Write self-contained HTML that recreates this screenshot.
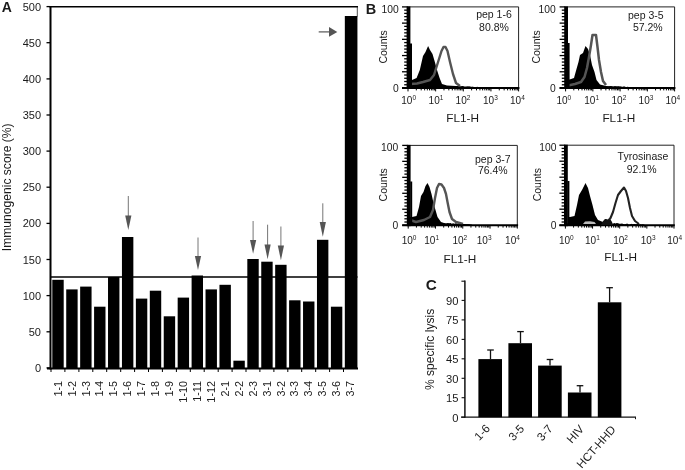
<!DOCTYPE html>
<html><head><meta charset="utf-8"><title>Figure</title>
<style>
html,body{margin:0;padding:0;background:#fff;}
body{width:685px;height:470px;overflow:hidden;}
svg{display:block;filter:blur(0.4px);}
text{font-family:"Liberation Sans",sans-serif;fill:#1a1a1a;}
</style></head><body>
<svg width="685" height="470" viewBox="0 0 685 470">
<rect width="685" height="470" fill="#fff"/>
<!-- Panel A -->
<g id="panelA">
<text x="1.8" y="11.6" font-size="14" font-weight="bold" fill="#111">A</text>
<line x1="50.5" y1="6" x2="50.5" y2="369.4" stroke="#000" stroke-width="2"/>
<line x1="49.5" y1="6.8" x2="358" y2="6.8" stroke="#000" stroke-width="1.6"/>
<line x1="357.3" y1="6.8" x2="357.3" y2="16.5" stroke="#222" stroke-width="0.8"/>
<line x1="47" y1="368.4" x2="358" y2="368.4" stroke="#000" stroke-width="2"/>
<line x1="46.5" y1="367.9" x2="50" y2="367.9" stroke="#000" stroke-width="1.3"/>
<text x="41" y="371.9" font-size="11" text-anchor="end">0</text>
<line x1="46.5" y1="331.8" x2="50" y2="331.8" stroke="#000" stroke-width="1.3"/>
<text x="41" y="335.8" font-size="11" text-anchor="end">50</text>
<line x1="46.5" y1="295.6" x2="50" y2="295.6" stroke="#000" stroke-width="1.3"/>
<text x="41" y="299.6" font-size="11" text-anchor="end">100</text>
<line x1="46.5" y1="259.5" x2="50" y2="259.5" stroke="#000" stroke-width="1.3"/>
<text x="41" y="263.5" font-size="11" text-anchor="end">150</text>
<line x1="46.5" y1="223.4" x2="50" y2="223.4" stroke="#000" stroke-width="1.3"/>
<text x="41" y="227.4" font-size="11" text-anchor="end">200</text>
<line x1="46.5" y1="187.2" x2="50" y2="187.2" stroke="#000" stroke-width="1.3"/>
<text x="41" y="191.2" font-size="11" text-anchor="end">250</text>
<line x1="46.5" y1="151.1" x2="50" y2="151.1" stroke="#000" stroke-width="1.3"/>
<text x="41" y="155.1" font-size="11" text-anchor="end">300</text>
<line x1="46.5" y1="115.0" x2="50" y2="115.0" stroke="#000" stroke-width="1.3"/>
<text x="41" y="119.0" font-size="11" text-anchor="end">350</text>
<line x1="46.5" y1="78.9" x2="50" y2="78.9" stroke="#000" stroke-width="1.3"/>
<text x="41" y="82.9" font-size="11" text-anchor="end">400</text>
<line x1="46.5" y1="42.7" x2="50" y2="42.7" stroke="#000" stroke-width="1.3"/>
<text x="41" y="46.7" font-size="11" text-anchor="end">450</text>
<line x1="46.5" y1="6.6" x2="50" y2="6.6" stroke="#000" stroke-width="1.3"/>
<text x="41" y="10.6" font-size="11" text-anchor="end">500</text>
<text transform="translate(10.6,187.3) rotate(-90)" font-size="12.1" text-anchor="middle">Immunogenic score (%)</text>
<rect x="52.30" y="279.8" width="11.4" height="88.6" fill="#000"/>
<text transform="translate(61.6,381) rotate(-90)" font-size="10.8" text-anchor="end">1-1</text>
<line x1="51.0" y1="368.4" x2="51.0" y2="372" stroke="#000" stroke-width="1"/>
<rect x="66.23" y="289.4" width="11.4" height="79.0" fill="#000"/>
<text transform="translate(75.5,381) rotate(-90)" font-size="10.8" text-anchor="end">1-2</text>
<line x1="64.9" y1="368.4" x2="64.9" y2="372" stroke="#000" stroke-width="1"/>
<rect x="80.16" y="286.6" width="11.4" height="81.8" fill="#000"/>
<text transform="translate(89.5,381) rotate(-90)" font-size="10.8" text-anchor="end">1-3</text>
<line x1="78.9" y1="368.4" x2="78.9" y2="372" stroke="#000" stroke-width="1"/>
<rect x="94.09" y="306.7" width="11.4" height="61.7" fill="#000"/>
<text transform="translate(103.4,381) rotate(-90)" font-size="10.8" text-anchor="end">1-4</text>
<line x1="92.8" y1="368.4" x2="92.8" y2="372" stroke="#000" stroke-width="1"/>
<rect x="108.02" y="277" width="11.4" height="91.4" fill="#000"/>
<text transform="translate(117.3,381) rotate(-90)" font-size="10.8" text-anchor="end">1-5</text>
<line x1="106.7" y1="368.4" x2="106.7" y2="372" stroke="#000" stroke-width="1"/>
<rect x="121.95" y="237" width="11.4" height="131.4" fill="#000"/>
<text transform="translate(131.2,381) rotate(-90)" font-size="10.8" text-anchor="end">1-6</text>
<line x1="120.7" y1="368.4" x2="120.7" y2="372" stroke="#000" stroke-width="1"/>
<rect x="135.88" y="298.6" width="11.4" height="69.8" fill="#000"/>
<text transform="translate(145.2,381) rotate(-90)" font-size="10.8" text-anchor="end">1-7</text>
<line x1="134.6" y1="368.4" x2="134.6" y2="372" stroke="#000" stroke-width="1"/>
<rect x="149.81" y="290.7" width="11.4" height="77.7" fill="#000"/>
<text transform="translate(159.1,381) rotate(-90)" font-size="10.8" text-anchor="end">1-8</text>
<line x1="148.5" y1="368.4" x2="148.5" y2="372" stroke="#000" stroke-width="1"/>
<rect x="163.74" y="316.3" width="11.4" height="52.1" fill="#000"/>
<text transform="translate(173.0,381) rotate(-90)" font-size="10.8" text-anchor="end">1-9</text>
<line x1="162.4" y1="368.4" x2="162.4" y2="372" stroke="#000" stroke-width="1"/>
<rect x="177.67" y="297.6" width="11.4" height="70.8" fill="#000"/>
<text transform="translate(187.0,381) rotate(-90)" font-size="10.8" text-anchor="end">1-10</text>
<line x1="176.4" y1="368.4" x2="176.4" y2="372" stroke="#000" stroke-width="1"/>
<rect x="191.60" y="275.5" width="11.4" height="92.9" fill="#000"/>
<text transform="translate(200.9,381) rotate(-90)" font-size="10.8" text-anchor="end">1-11</text>
<line x1="190.3" y1="368.4" x2="190.3" y2="372" stroke="#000" stroke-width="1"/>
<rect x="205.53" y="289.4" width="11.4" height="79.0" fill="#000"/>
<text transform="translate(214.8,381) rotate(-90)" font-size="10.8" text-anchor="end">1-12</text>
<line x1="204.2" y1="368.4" x2="204.2" y2="372" stroke="#000" stroke-width="1"/>
<rect x="219.46" y="284.8" width="11.4" height="83.6" fill="#000"/>
<text transform="translate(228.8,381) rotate(-90)" font-size="10.8" text-anchor="end">2-1</text>
<line x1="218.2" y1="368.4" x2="218.2" y2="372" stroke="#000" stroke-width="1"/>
<rect x="233.39" y="360.7" width="11.4" height="7.7" fill="#000"/>
<text transform="translate(242.7,381) rotate(-90)" font-size="10.8" text-anchor="end">2-2</text>
<line x1="232.1" y1="368.4" x2="232.1" y2="372" stroke="#000" stroke-width="1"/>
<rect x="247.32" y="259" width="11.4" height="109.4" fill="#000"/>
<text transform="translate(256.6,381) rotate(-90)" font-size="10.8" text-anchor="end">2-3</text>
<line x1="246.0" y1="368.4" x2="246.0" y2="372" stroke="#000" stroke-width="1"/>
<rect x="261.25" y="261.7" width="11.4" height="106.7" fill="#000"/>
<text transform="translate(270.6,381) rotate(-90)" font-size="10.8" text-anchor="end">3-1</text>
<line x1="259.9" y1="368.4" x2="259.9" y2="372" stroke="#000" stroke-width="1"/>
<rect x="275.18" y="264.8" width="11.4" height="103.6" fill="#000"/>
<text transform="translate(284.5,381) rotate(-90)" font-size="10.8" text-anchor="end">3-2</text>
<line x1="273.9" y1="368.4" x2="273.9" y2="372" stroke="#000" stroke-width="1"/>
<rect x="289.11" y="300.3" width="11.4" height="68.1" fill="#000"/>
<text transform="translate(298.4,381) rotate(-90)" font-size="10.8" text-anchor="end">3-3</text>
<line x1="287.8" y1="368.4" x2="287.8" y2="372" stroke="#000" stroke-width="1"/>
<rect x="303.04" y="301.5" width="11.4" height="66.9" fill="#000"/>
<text transform="translate(312.3,381) rotate(-90)" font-size="10.8" text-anchor="end">3-4</text>
<line x1="301.7" y1="368.4" x2="301.7" y2="372" stroke="#000" stroke-width="1"/>
<rect x="316.97" y="239.8" width="11.4" height="128.6" fill="#000"/>
<text transform="translate(326.3,381) rotate(-90)" font-size="10.8" text-anchor="end">3-5</text>
<line x1="315.7" y1="368.4" x2="315.7" y2="372" stroke="#000" stroke-width="1"/>
<rect x="330.90" y="306.7" width="11.4" height="61.7" fill="#000"/>
<text transform="translate(340.2,381) rotate(-90)" font-size="10.8" text-anchor="end">3-6</text>
<line x1="329.6" y1="368.4" x2="329.6" y2="372" stroke="#000" stroke-width="1"/>
<rect x="344.83" y="16" width="12.6" height="352.4" fill="#000"/>
<text transform="translate(354.1,381) rotate(-90)" font-size="10.8" text-anchor="end">3-7</text>
<line x1="343.5" y1="368.4" x2="343.5" y2="372" stroke="#000" stroke-width="1"/>
<line x1="50" y1="277" x2="357.5" y2="277" stroke="#000" stroke-width="1.3"/>
<line x1="128.3" y1="196" x2="128.3" y2="216.5" stroke="#666" stroke-width="0.9"/>
<polygon points="125.20000000000002,215.5 131.4,215.5 128.3,230" fill="#555"/>
<line x1="198" y1="237.5" x2="198" y2="257" stroke="#666" stroke-width="0.9"/>
<polygon points="194.9,256 201.1,256 198,270" fill="#555"/>
<line x1="253.1" y1="221" x2="253.1" y2="241" stroke="#666" stroke-width="0.9"/>
<polygon points="250.0,240 256.2,240 253.1,253.8" fill="#555"/>
<line x1="267.6" y1="224.7" x2="267.6" y2="245.4" stroke="#666" stroke-width="0.9"/>
<polygon points="264.5,244.4 270.70000000000005,244.4 267.6,259.2" fill="#555"/>
<line x1="280.9" y1="226.5" x2="280.9" y2="246.4" stroke="#666" stroke-width="0.9"/>
<polygon points="277.79999999999995,245.4 284.0,245.4 280.9,260.2" fill="#555"/>
<line x1="322.8" y1="203.3" x2="322.8" y2="223" stroke="#666" stroke-width="0.9"/>
<polygon points="319.7,222 325.90000000000003,222 322.8,236.7" fill="#555"/>
<line x1="318.7" y1="31.9" x2="330" y2="31.9" stroke="#555" stroke-width="1.2"/>
<polygon points="329,27 329,36.8 337.3,31.9" fill="#555"/>
</g>
<!-- Panel B -->
<g id="panelB">
<text x="365.8" y="14" font-size="14.5" font-weight="bold" fill="#111">B</text>
<line x1="408" y1="6.9" x2="518.6" y2="6.9" stroke="#222" stroke-width="1"/>
<line x1="518.6" y1="6.9" x2="518.6" y2="88" stroke="#222" stroke-width="1"/>
<polygon points="410,87.5 410,80 412,80 416.6,78 419.8,70 423,56 425.5,52 428.1,46 430,50 432.5,54 435,62.5 437,70 439.6,78 442,84 447,85.5 460,86.3 475,87 475,87.5" fill="#000"/>
<polygon points="410,88 410,86.1 411.3,84.3 412.6,84.6 413.9,85.9 415.2,85.3 416.5,85.5 417.8,85.0 419.1,84.8 420.4,86.4 421.7,86.6 423.0,84.8 424.3,85.7 425.6,85.0 426.9,86.7 428.2,85.8 429.5,85.3 430.8,86.3 432.1,84.9 433.4,85.1 434.7,86.8 436.0,86.8 437.3,85.9 438.6,85.2 439.9,86.2 441.2,86.6 442.5,86.2 443.8,86.9 445.1,86.6 446.4,86.3 447.7,86.3 449.0,86.7 450.3,86.7 451.6,86.8 452.9,86.5 454.2,86.7 455.5,87.1 456.8,86.1 458.1,86.5 459.4,86.4 460.7,87.0 462.0,86.1 463.3,86.3 464.6,87.2 465.9,87.0 467.2,86.6 468.5,86.6 469.8,86.5 471.1,87.0 472.4,86.7 473.7,86.9 475.0,87.2 476.3,87.0 477.6,86.8 478,88" fill="#000"/>
<polyline points="410.5,84 417,83.5 423,82 430,80 434,75 436.5,67 439,59 441.5,51 443.5,47 445.5,47 447.5,51 450,62 453,74 456,83 460,86" fill="none" stroke="#555" stroke-width="2.4" stroke-linejoin="round"/>
<rect x="406.6" y="6.4" width="3.8" height="82.6" fill="#000"/>
<rect x="410" y="43.5" width="2" height="44.5" fill="#000"/>
<line x1="402.0" y1="6.90" x2="408" y2="6.90" stroke="#000" stroke-width="1.3"/>
<line x1="404.2" y1="10.14" x2="408" y2="10.14" stroke="#000" stroke-width="1.3"/>
<line x1="404.2" y1="13.39" x2="408" y2="13.39" stroke="#000" stroke-width="1.3"/>
<line x1="404.2" y1="16.63" x2="408" y2="16.63" stroke="#000" stroke-width="1.3"/>
<line x1="404.2" y1="19.88" x2="408" y2="19.88" stroke="#000" stroke-width="1.3"/>
<line x1="402.0" y1="23.12" x2="408" y2="23.12" stroke="#000" stroke-width="1.3"/>
<line x1="404.2" y1="26.36" x2="408" y2="26.36" stroke="#000" stroke-width="1.3"/>
<line x1="404.2" y1="29.61" x2="408" y2="29.61" stroke="#000" stroke-width="1.3"/>
<line x1="404.2" y1="32.85" x2="408" y2="32.85" stroke="#000" stroke-width="1.3"/>
<line x1="404.2" y1="36.10" x2="408" y2="36.10" stroke="#000" stroke-width="1.3"/>
<line x1="402.0" y1="39.34" x2="408" y2="39.34" stroke="#000" stroke-width="1.3"/>
<line x1="404.2" y1="42.58" x2="408" y2="42.58" stroke="#000" stroke-width="1.3"/>
<line x1="404.2" y1="45.83" x2="408" y2="45.83" stroke="#000" stroke-width="1.3"/>
<line x1="404.2" y1="49.07" x2="408" y2="49.07" stroke="#000" stroke-width="1.3"/>
<line x1="404.2" y1="52.32" x2="408" y2="52.32" stroke="#000" stroke-width="1.3"/>
<line x1="402.0" y1="55.56" x2="408" y2="55.56" stroke="#000" stroke-width="1.3"/>
<line x1="404.2" y1="58.80" x2="408" y2="58.80" stroke="#000" stroke-width="1.3"/>
<line x1="404.2" y1="62.05" x2="408" y2="62.05" stroke="#000" stroke-width="1.3"/>
<line x1="404.2" y1="65.29" x2="408" y2="65.29" stroke="#000" stroke-width="1.3"/>
<line x1="404.2" y1="68.54" x2="408" y2="68.54" stroke="#000" stroke-width="1.3"/>
<line x1="402.0" y1="71.78" x2="408" y2="71.78" stroke="#000" stroke-width="1.3"/>
<line x1="404.2" y1="75.02" x2="408" y2="75.02" stroke="#000" stroke-width="1.3"/>
<line x1="404.2" y1="78.27" x2="408" y2="78.27" stroke="#000" stroke-width="1.3"/>
<line x1="404.2" y1="81.51" x2="408" y2="81.51" stroke="#000" stroke-width="1.3"/>
<line x1="404.2" y1="84.76" x2="408" y2="84.76" stroke="#000" stroke-width="1.3"/>
<line x1="402.0" y1="88.00" x2="408" y2="88.00" stroke="#000" stroke-width="1.3"/>
<line x1="402" y1="88" x2="519.4" y2="88" stroke="#000" stroke-width="2"/>
<line x1="408.00" y1="88" x2="408.00" y2="91.4" stroke="#000" stroke-width="1"/>
<line x1="416.32" y1="88" x2="416.32" y2="90.4" stroke="#000" stroke-width="1"/>
<line x1="421.19" y1="88" x2="421.19" y2="90.4" stroke="#000" stroke-width="1"/>
<line x1="424.65" y1="88" x2="424.65" y2="90.4" stroke="#000" stroke-width="1"/>
<line x1="427.33" y1="88" x2="427.33" y2="90.4" stroke="#000" stroke-width="1"/>
<line x1="429.52" y1="88" x2="429.52" y2="90.4" stroke="#000" stroke-width="1"/>
<line x1="431.37" y1="88" x2="431.37" y2="90.4" stroke="#000" stroke-width="1"/>
<line x1="432.97" y1="88" x2="432.97" y2="90.4" stroke="#000" stroke-width="1"/>
<line x1="434.38" y1="88" x2="434.38" y2="90.4" stroke="#000" stroke-width="1"/>
<line x1="435.65" y1="88" x2="435.65" y2="91.4" stroke="#000" stroke-width="1"/>
<line x1="443.97" y1="88" x2="443.97" y2="90.4" stroke="#000" stroke-width="1"/>
<line x1="448.84" y1="88" x2="448.84" y2="90.4" stroke="#000" stroke-width="1"/>
<line x1="452.30" y1="88" x2="452.30" y2="90.4" stroke="#000" stroke-width="1"/>
<line x1="454.98" y1="88" x2="454.98" y2="90.4" stroke="#000" stroke-width="1"/>
<line x1="457.17" y1="88" x2="457.17" y2="90.4" stroke="#000" stroke-width="1"/>
<line x1="459.02" y1="88" x2="459.02" y2="90.4" stroke="#000" stroke-width="1"/>
<line x1="460.62" y1="88" x2="460.62" y2="90.4" stroke="#000" stroke-width="1"/>
<line x1="462.03" y1="88" x2="462.03" y2="90.4" stroke="#000" stroke-width="1"/>
<line x1="463.30" y1="88" x2="463.30" y2="91.4" stroke="#000" stroke-width="1"/>
<line x1="471.62" y1="88" x2="471.62" y2="90.4" stroke="#000" stroke-width="1"/>
<line x1="476.49" y1="88" x2="476.49" y2="90.4" stroke="#000" stroke-width="1"/>
<line x1="479.95" y1="88" x2="479.95" y2="90.4" stroke="#000" stroke-width="1"/>
<line x1="482.63" y1="88" x2="482.63" y2="90.4" stroke="#000" stroke-width="1"/>
<line x1="484.82" y1="88" x2="484.82" y2="90.4" stroke="#000" stroke-width="1"/>
<line x1="486.67" y1="88" x2="486.67" y2="90.4" stroke="#000" stroke-width="1"/>
<line x1="488.27" y1="88" x2="488.27" y2="90.4" stroke="#000" stroke-width="1"/>
<line x1="489.68" y1="88" x2="489.68" y2="90.4" stroke="#000" stroke-width="1"/>
<line x1="490.95" y1="88" x2="490.95" y2="91.4" stroke="#000" stroke-width="1"/>
<line x1="499.27" y1="88" x2="499.27" y2="90.4" stroke="#000" stroke-width="1"/>
<line x1="504.14" y1="88" x2="504.14" y2="90.4" stroke="#000" stroke-width="1"/>
<line x1="507.60" y1="88" x2="507.60" y2="90.4" stroke="#000" stroke-width="1"/>
<line x1="510.28" y1="88" x2="510.28" y2="90.4" stroke="#000" stroke-width="1"/>
<line x1="512.47" y1="88" x2="512.47" y2="90.4" stroke="#000" stroke-width="1"/>
<line x1="514.32" y1="88" x2="514.32" y2="90.4" stroke="#000" stroke-width="1"/>
<line x1="515.92" y1="88" x2="515.92" y2="90.4" stroke="#000" stroke-width="1"/>
<line x1="517.33" y1="88" x2="517.33" y2="90.4" stroke="#000" stroke-width="1"/>
<line x1="518.6" y1="88" x2="518.6" y2="91.4" stroke="#000" stroke-width="1"/>
<text x="398.8" y="12.8" font-size="10.3" text-anchor="end">100</text>
<text x="398.8" y="92" font-size="10.3" text-anchor="end">0</text>
<text transform="translate(387,46.95) rotate(-90)" font-size="10.5" text-anchor="middle">Counts</text>
<text x="494" y="18.4" font-size="10.5" text-anchor="middle">pep 1-6</text>
<text x="494" y="30.8" font-size="10.5" text-anchor="middle">80.8%</text>
<text x="401.3" y="104" font-size="10">10<tspan font-size="6.5" dy="-4.3">0</tspan></text>
<text x="428.6" y="104" font-size="10">10<tspan font-size="6.5" dy="-4.3">1</tspan></text>
<text x="455.6" y="104" font-size="10">10<tspan font-size="6.5" dy="-4.3">2</tspan></text>
<text x="483" y="104" font-size="10">10<tspan font-size="6.5" dy="-4.3">3</tspan></text>
<text x="510" y="104" font-size="10">10<tspan font-size="6.5" dy="-4.3">4</tspan></text>
<text x="462.6" y="121.6" font-size="11.8" text-anchor="middle">FL1-H</text>
<line x1="565.6" y1="6.9" x2="674.6" y2="6.9" stroke="#222" stroke-width="1"/>
<line x1="674.6" y1="6.9" x2="674.6" y2="88" stroke="#222" stroke-width="1"/>
<polygon points="568,87.5 568,79.5 569.6,79.5 574,78 576.5,69 578.5,62 580,55 583,53 585.5,46 588,49 590,55 592,65 594.5,72 596.5,80 600,84.5 606,86 625,87 625,87.5" fill="#000"/>
<polygon points="567.6,88 567.6,84.0 568.9,84.1 570.2,86.3 571.5,86.3 572.8,84.5 574.1,84.8 575.4,85.0 576.7,85.9 578.0,85.3 579.3,85.3 580.6,85.4 581.9,86.3 583.2,85.8 584.5,85.9 585.8,85.3 587.1,84.8 588.4,84.9 589.7,85.8 591.0,86.0 592.3,86.4 593.6,86.8 594.9,86.9 596.2,86.1 597.5,86.4 598.8,86.3 600.1,85.6 601.4,86.2 602.7,86.2 604.0,86.7 605.3,87.1 606.6,86.6 607.9,86.9 609.2,86.5 610.5,85.9 611.8,86.3 613.1,87.0 614.4,86.2 615.7,86.3 617.0,86.5 618.3,86.3 619.6,86.5 620.9,86.5 622.2,87.0 623.5,86.5 624.8,86.5 626.1,87.3 627.4,86.8 628.7,86.9 630.0,87.2 630,88" fill="#000"/>
<polyline points="568,85.5 575,84 581,82 584.5,77 587,68 589,57 591,45 592.5,35 596,35 597.5,47 599,60 601,72 603,81 606,85" fill="none" stroke="#555" stroke-width="2.5" stroke-linejoin="round"/>
<rect x="564.2" y="6.4" width="3.8" height="82.6" fill="#000"/>
<rect x="567.6" y="43" width="2" height="45" fill="#000"/>
<line x1="559.6" y1="6.90" x2="565.6" y2="6.90" stroke="#000" stroke-width="1.3"/>
<line x1="561.8" y1="10.14" x2="565.6" y2="10.14" stroke="#000" stroke-width="1.3"/>
<line x1="561.8" y1="13.39" x2="565.6" y2="13.39" stroke="#000" stroke-width="1.3"/>
<line x1="561.8" y1="16.63" x2="565.6" y2="16.63" stroke="#000" stroke-width="1.3"/>
<line x1="561.8" y1="19.88" x2="565.6" y2="19.88" stroke="#000" stroke-width="1.3"/>
<line x1="559.6" y1="23.12" x2="565.6" y2="23.12" stroke="#000" stroke-width="1.3"/>
<line x1="561.8" y1="26.36" x2="565.6" y2="26.36" stroke="#000" stroke-width="1.3"/>
<line x1="561.8" y1="29.61" x2="565.6" y2="29.61" stroke="#000" stroke-width="1.3"/>
<line x1="561.8" y1="32.85" x2="565.6" y2="32.85" stroke="#000" stroke-width="1.3"/>
<line x1="561.8" y1="36.10" x2="565.6" y2="36.10" stroke="#000" stroke-width="1.3"/>
<line x1="559.6" y1="39.34" x2="565.6" y2="39.34" stroke="#000" stroke-width="1.3"/>
<line x1="561.8" y1="42.58" x2="565.6" y2="42.58" stroke="#000" stroke-width="1.3"/>
<line x1="561.8" y1="45.83" x2="565.6" y2="45.83" stroke="#000" stroke-width="1.3"/>
<line x1="561.8" y1="49.07" x2="565.6" y2="49.07" stroke="#000" stroke-width="1.3"/>
<line x1="561.8" y1="52.32" x2="565.6" y2="52.32" stroke="#000" stroke-width="1.3"/>
<line x1="559.6" y1="55.56" x2="565.6" y2="55.56" stroke="#000" stroke-width="1.3"/>
<line x1="561.8" y1="58.80" x2="565.6" y2="58.80" stroke="#000" stroke-width="1.3"/>
<line x1="561.8" y1="62.05" x2="565.6" y2="62.05" stroke="#000" stroke-width="1.3"/>
<line x1="561.8" y1="65.29" x2="565.6" y2="65.29" stroke="#000" stroke-width="1.3"/>
<line x1="561.8" y1="68.54" x2="565.6" y2="68.54" stroke="#000" stroke-width="1.3"/>
<line x1="559.6" y1="71.78" x2="565.6" y2="71.78" stroke="#000" stroke-width="1.3"/>
<line x1="561.8" y1="75.02" x2="565.6" y2="75.02" stroke="#000" stroke-width="1.3"/>
<line x1="561.8" y1="78.27" x2="565.6" y2="78.27" stroke="#000" stroke-width="1.3"/>
<line x1="561.8" y1="81.51" x2="565.6" y2="81.51" stroke="#000" stroke-width="1.3"/>
<line x1="561.8" y1="84.76" x2="565.6" y2="84.76" stroke="#000" stroke-width="1.3"/>
<line x1="559.6" y1="88.00" x2="565.6" y2="88.00" stroke="#000" stroke-width="1.3"/>
<line x1="559.6" y1="88" x2="675.4" y2="88" stroke="#000" stroke-width="2"/>
<line x1="565.60" y1="88" x2="565.60" y2="91.4" stroke="#000" stroke-width="1"/>
<line x1="573.80" y1="88" x2="573.80" y2="90.4" stroke="#000" stroke-width="1"/>
<line x1="578.60" y1="88" x2="578.60" y2="90.4" stroke="#000" stroke-width="1"/>
<line x1="582.01" y1="88" x2="582.01" y2="90.4" stroke="#000" stroke-width="1"/>
<line x1="584.65" y1="88" x2="584.65" y2="90.4" stroke="#000" stroke-width="1"/>
<line x1="586.80" y1="88" x2="586.80" y2="90.4" stroke="#000" stroke-width="1"/>
<line x1="588.63" y1="88" x2="588.63" y2="90.4" stroke="#000" stroke-width="1"/>
<line x1="590.21" y1="88" x2="590.21" y2="90.4" stroke="#000" stroke-width="1"/>
<line x1="591.60" y1="88" x2="591.60" y2="90.4" stroke="#000" stroke-width="1"/>
<line x1="592.85" y1="88" x2="592.85" y2="91.4" stroke="#000" stroke-width="1"/>
<line x1="601.05" y1="88" x2="601.05" y2="90.4" stroke="#000" stroke-width="1"/>
<line x1="605.85" y1="88" x2="605.85" y2="90.4" stroke="#000" stroke-width="1"/>
<line x1="609.26" y1="88" x2="609.26" y2="90.4" stroke="#000" stroke-width="1"/>
<line x1="611.90" y1="88" x2="611.90" y2="90.4" stroke="#000" stroke-width="1"/>
<line x1="614.05" y1="88" x2="614.05" y2="90.4" stroke="#000" stroke-width="1"/>
<line x1="615.88" y1="88" x2="615.88" y2="90.4" stroke="#000" stroke-width="1"/>
<line x1="617.46" y1="88" x2="617.46" y2="90.4" stroke="#000" stroke-width="1"/>
<line x1="618.85" y1="88" x2="618.85" y2="90.4" stroke="#000" stroke-width="1"/>
<line x1="620.10" y1="88" x2="620.10" y2="91.4" stroke="#000" stroke-width="1"/>
<line x1="628.30" y1="88" x2="628.30" y2="90.4" stroke="#000" stroke-width="1"/>
<line x1="633.10" y1="88" x2="633.10" y2="90.4" stroke="#000" stroke-width="1"/>
<line x1="636.51" y1="88" x2="636.51" y2="90.4" stroke="#000" stroke-width="1"/>
<line x1="639.15" y1="88" x2="639.15" y2="90.4" stroke="#000" stroke-width="1"/>
<line x1="641.30" y1="88" x2="641.30" y2="90.4" stroke="#000" stroke-width="1"/>
<line x1="643.13" y1="88" x2="643.13" y2="90.4" stroke="#000" stroke-width="1"/>
<line x1="644.71" y1="88" x2="644.71" y2="90.4" stroke="#000" stroke-width="1"/>
<line x1="646.10" y1="88" x2="646.10" y2="90.4" stroke="#000" stroke-width="1"/>
<line x1="647.35" y1="88" x2="647.35" y2="91.4" stroke="#000" stroke-width="1"/>
<line x1="655.55" y1="88" x2="655.55" y2="90.4" stroke="#000" stroke-width="1"/>
<line x1="660.35" y1="88" x2="660.35" y2="90.4" stroke="#000" stroke-width="1"/>
<line x1="663.76" y1="88" x2="663.76" y2="90.4" stroke="#000" stroke-width="1"/>
<line x1="666.40" y1="88" x2="666.40" y2="90.4" stroke="#000" stroke-width="1"/>
<line x1="668.55" y1="88" x2="668.55" y2="90.4" stroke="#000" stroke-width="1"/>
<line x1="670.38" y1="88" x2="670.38" y2="90.4" stroke="#000" stroke-width="1"/>
<line x1="671.96" y1="88" x2="671.96" y2="90.4" stroke="#000" stroke-width="1"/>
<line x1="673.35" y1="88" x2="673.35" y2="90.4" stroke="#000" stroke-width="1"/>
<line x1="674.6" y1="88" x2="674.6" y2="91.4" stroke="#000" stroke-width="1"/>
<text x="555.8" y="12.9" font-size="10.3" text-anchor="end">100</text>
<text x="555.8" y="92" font-size="10.3" text-anchor="end">0</text>
<text transform="translate(539.5,46.95) rotate(-90)" font-size="10.5" text-anchor="middle">Counts</text>
<text x="645.8" y="18.6" font-size="10.5" text-anchor="middle">pep 3-5</text>
<text x="647.8" y="30.6" font-size="10.5" text-anchor="middle">57.2%</text>
<text x="556.4" y="104.4" font-size="10">10<tspan font-size="6.5" dy="-4.3">0</tspan></text>
<text x="584.3" y="104.4" font-size="10">10<tspan font-size="6.5" dy="-4.3">1</tspan></text>
<text x="611.5" y="104.4" font-size="10">10<tspan font-size="6.5" dy="-4.3">2</tspan></text>
<text x="638.6" y="104.4" font-size="10">10<tspan font-size="6.5" dy="-4.3">3</tspan></text>
<text x="665.4" y="104.4" font-size="10">10<tspan font-size="6.5" dy="-4.3">4</tspan></text>
<text x="618.8" y="121.6" font-size="11.8" text-anchor="middle">FL1-H</text>
<line x1="408.2" y1="145.4" x2="517.3" y2="145.4" stroke="#222" stroke-width="1"/>
<line x1="517.3" y1="145.4" x2="517.3" y2="225.2" stroke="#222" stroke-width="1"/>
<polygon points="410,225 410,217 412,217 416.5,216 419,207 421,196 423.5,192 425.5,186 427.5,183 429.5,187 431.5,194 433.5,203 435.5,210 437.5,217 441,222 447,224 470,224.6 470,225" fill="#000"/>
<polygon points="410.2,225.2 410.2,223.0 411.5,222.3 412.8,222.8 414.1,222.2 415.4,222.2 416.7,223.6 418.0,223.7 419.3,221.9 420.6,223.2 421.9,223.3 423.2,221.7 424.5,222.9 425.8,222.2 427.1,223.0 428.4,222.7 429.7,223.7 431.0,222.8 432.3,222.4 433.6,223.1 434.9,222.7 436.2,222.9 437.5,224.0 438.8,222.8 440.1,223.2 441.4,223.7 442.7,224.2 444.0,222.9 445.3,223.5 446.6,223.2 447.9,223.0 449.2,223.3 450.5,223.1 451.8,223.8 453.1,223.3 454.4,223.8 455.7,223.3 457.0,223.4 458.3,224.4 459.6,224.3 460.9,224.3 462.2,223.5 463.5,224.1 464.8,224.0 466.1,224.3 467.4,224.2 468.7,224.3 470.0,224.4 471.3,224.2 472,225.2" fill="#000"/>
<polyline points="410,220 416,222 424,220 430,217 433,210 435,198 437,188 439,184 441.5,184.5 444,188 446,194 447.5,202 449.5,212 452,219 456,222 463,224" fill="none" stroke="#555" stroke-width="2.4" stroke-linejoin="round"/>
<rect x="406.8" y="144.9" width="3.8" height="81.29999999999998" fill="#000"/>
<rect x="410.2" y="181.5" width="2" height="43.69999999999999" fill="#000"/>
<line x1="402.2" y1="145.40" x2="408.2" y2="145.40" stroke="#000" stroke-width="1.3"/>
<line x1="404.4" y1="148.59" x2="408.2" y2="148.59" stroke="#000" stroke-width="1.3"/>
<line x1="404.4" y1="151.78" x2="408.2" y2="151.78" stroke="#000" stroke-width="1.3"/>
<line x1="404.4" y1="154.98" x2="408.2" y2="154.98" stroke="#000" stroke-width="1.3"/>
<line x1="404.4" y1="158.17" x2="408.2" y2="158.17" stroke="#000" stroke-width="1.3"/>
<line x1="402.2" y1="161.36" x2="408.2" y2="161.36" stroke="#000" stroke-width="1.3"/>
<line x1="404.4" y1="164.55" x2="408.2" y2="164.55" stroke="#000" stroke-width="1.3"/>
<line x1="404.4" y1="167.74" x2="408.2" y2="167.74" stroke="#000" stroke-width="1.3"/>
<line x1="404.4" y1="170.94" x2="408.2" y2="170.94" stroke="#000" stroke-width="1.3"/>
<line x1="404.4" y1="174.13" x2="408.2" y2="174.13" stroke="#000" stroke-width="1.3"/>
<line x1="402.2" y1="177.32" x2="408.2" y2="177.32" stroke="#000" stroke-width="1.3"/>
<line x1="404.4" y1="180.51" x2="408.2" y2="180.51" stroke="#000" stroke-width="1.3"/>
<line x1="404.4" y1="183.70" x2="408.2" y2="183.70" stroke="#000" stroke-width="1.3"/>
<line x1="404.4" y1="186.90" x2="408.2" y2="186.90" stroke="#000" stroke-width="1.3"/>
<line x1="404.4" y1="190.09" x2="408.2" y2="190.09" stroke="#000" stroke-width="1.3"/>
<line x1="402.2" y1="193.28" x2="408.2" y2="193.28" stroke="#000" stroke-width="1.3"/>
<line x1="404.4" y1="196.47" x2="408.2" y2="196.47" stroke="#000" stroke-width="1.3"/>
<line x1="404.4" y1="199.66" x2="408.2" y2="199.66" stroke="#000" stroke-width="1.3"/>
<line x1="404.4" y1="202.86" x2="408.2" y2="202.86" stroke="#000" stroke-width="1.3"/>
<line x1="404.4" y1="206.05" x2="408.2" y2="206.05" stroke="#000" stroke-width="1.3"/>
<line x1="402.2" y1="209.24" x2="408.2" y2="209.24" stroke="#000" stroke-width="1.3"/>
<line x1="404.4" y1="212.43" x2="408.2" y2="212.43" stroke="#000" stroke-width="1.3"/>
<line x1="404.4" y1="215.62" x2="408.2" y2="215.62" stroke="#000" stroke-width="1.3"/>
<line x1="404.4" y1="218.82" x2="408.2" y2="218.82" stroke="#000" stroke-width="1.3"/>
<line x1="404.4" y1="222.01" x2="408.2" y2="222.01" stroke="#000" stroke-width="1.3"/>
<line x1="402.2" y1="225.20" x2="408.2" y2="225.20" stroke="#000" stroke-width="1.3"/>
<line x1="402.2" y1="225.2" x2="518.0999999999999" y2="225.2" stroke="#000" stroke-width="2"/>
<line x1="408.20" y1="225.2" x2="408.20" y2="228.6" stroke="#000" stroke-width="1"/>
<line x1="416.41" y1="225.2" x2="416.41" y2="227.6" stroke="#000" stroke-width="1"/>
<line x1="421.21" y1="225.2" x2="421.21" y2="227.6" stroke="#000" stroke-width="1"/>
<line x1="424.62" y1="225.2" x2="424.62" y2="227.6" stroke="#000" stroke-width="1"/>
<line x1="427.26" y1="225.2" x2="427.26" y2="227.6" stroke="#000" stroke-width="1"/>
<line x1="429.42" y1="225.2" x2="429.42" y2="227.6" stroke="#000" stroke-width="1"/>
<line x1="431.25" y1="225.2" x2="431.25" y2="227.6" stroke="#000" stroke-width="1"/>
<line x1="432.83" y1="225.2" x2="432.83" y2="227.6" stroke="#000" stroke-width="1"/>
<line x1="434.23" y1="225.2" x2="434.23" y2="227.6" stroke="#000" stroke-width="1"/>
<line x1="435.47" y1="225.2" x2="435.47" y2="228.6" stroke="#000" stroke-width="1"/>
<line x1="443.69" y1="225.2" x2="443.69" y2="227.6" stroke="#000" stroke-width="1"/>
<line x1="448.49" y1="225.2" x2="448.49" y2="227.6" stroke="#000" stroke-width="1"/>
<line x1="451.90" y1="225.2" x2="451.90" y2="227.6" stroke="#000" stroke-width="1"/>
<line x1="454.54" y1="225.2" x2="454.54" y2="227.6" stroke="#000" stroke-width="1"/>
<line x1="456.70" y1="225.2" x2="456.70" y2="227.6" stroke="#000" stroke-width="1"/>
<line x1="458.53" y1="225.2" x2="458.53" y2="227.6" stroke="#000" stroke-width="1"/>
<line x1="460.11" y1="225.2" x2="460.11" y2="227.6" stroke="#000" stroke-width="1"/>
<line x1="461.50" y1="225.2" x2="461.50" y2="227.6" stroke="#000" stroke-width="1"/>
<line x1="462.75" y1="225.2" x2="462.75" y2="228.6" stroke="#000" stroke-width="1"/>
<line x1="470.96" y1="225.2" x2="470.96" y2="227.6" stroke="#000" stroke-width="1"/>
<line x1="475.76" y1="225.2" x2="475.76" y2="227.6" stroke="#000" stroke-width="1"/>
<line x1="479.17" y1="225.2" x2="479.17" y2="227.6" stroke="#000" stroke-width="1"/>
<line x1="481.81" y1="225.2" x2="481.81" y2="227.6" stroke="#000" stroke-width="1"/>
<line x1="483.97" y1="225.2" x2="483.97" y2="227.6" stroke="#000" stroke-width="1"/>
<line x1="485.80" y1="225.2" x2="485.80" y2="227.6" stroke="#000" stroke-width="1"/>
<line x1="487.38" y1="225.2" x2="487.38" y2="227.6" stroke="#000" stroke-width="1"/>
<line x1="488.78" y1="225.2" x2="488.78" y2="227.6" stroke="#000" stroke-width="1"/>
<line x1="490.02" y1="225.2" x2="490.02" y2="228.6" stroke="#000" stroke-width="1"/>
<line x1="498.24" y1="225.2" x2="498.24" y2="227.6" stroke="#000" stroke-width="1"/>
<line x1="503.04" y1="225.2" x2="503.04" y2="227.6" stroke="#000" stroke-width="1"/>
<line x1="506.45" y1="225.2" x2="506.45" y2="227.6" stroke="#000" stroke-width="1"/>
<line x1="509.09" y1="225.2" x2="509.09" y2="227.6" stroke="#000" stroke-width="1"/>
<line x1="511.25" y1="225.2" x2="511.25" y2="227.6" stroke="#000" stroke-width="1"/>
<line x1="513.08" y1="225.2" x2="513.08" y2="227.6" stroke="#000" stroke-width="1"/>
<line x1="514.66" y1="225.2" x2="514.66" y2="227.6" stroke="#000" stroke-width="1"/>
<line x1="516.05" y1="225.2" x2="516.05" y2="227.6" stroke="#000" stroke-width="1"/>
<line x1="517.3" y1="225.2" x2="517.3" y2="228.6" stroke="#000" stroke-width="1"/>
<text x="398.2" y="150.7" font-size="10.3" text-anchor="end">100</text>
<text x="398.2" y="229.2" font-size="10.3" text-anchor="end">0</text>
<text transform="translate(386.8,184.8) rotate(-90)" font-size="10.5" text-anchor="middle">Counts</text>
<text x="492.8" y="162.6" font-size="10.5" text-anchor="middle">pep 3-7</text>
<text x="492.8" y="173.8" font-size="10.5" text-anchor="middle">76.4%</text>
<text x="401.7" y="243.9" font-size="10">10<tspan font-size="6.5" dy="-4.3">0</tspan></text>
<text x="424.3" y="243.9" font-size="10">10<tspan font-size="6.5" dy="-4.3">1</tspan></text>
<text x="452.4" y="243.9" font-size="10">10<tspan font-size="6.5" dy="-4.3">2</tspan></text>
<text x="476.8" y="243.9" font-size="10">10<tspan font-size="6.5" dy="-4.3">3</tspan></text>
<text x="505.1" y="243.9" font-size="10">10<tspan font-size="6.5" dy="-4.3">4</tspan></text>
<text x="459.9" y="263.1" font-size="11.8" text-anchor="middle">FL1-H</text>
<line x1="565.4" y1="145.2" x2="674" y2="145.2" stroke="#222" stroke-width="1"/>
<line x1="674" y1="145.2" x2="674" y2="225.2" stroke="#222" stroke-width="1"/>
<polygon points="568,225 568,217 570,217 574.5,216 577,205 579,195 582,190 585.5,183 588,188 590,196 592.5,205 595,215 598,220 603,222 612,224 612,225" fill="#000"/>
<polygon points="567.4,225.2 567.4,223.0 568.7,223.4 570.0,222.7 571.3,223.3 572.6,223.5 573.9,222.8 575.2,221.6 576.5,221.9 577.8,222.0 579.1,223.3 580.4,222.6 581.7,223.2 583.0,223.5 584.3,223.6 585.6,223.4 586.9,221.9 588.2,222.2 589.5,222.3 590.8,222.3 592.1,223.6 593.4,223.4 594.7,222.8 596.0,222.6 597.3,222.5 598.6,222.4 599.9,223.9 601.2,223.0 602.5,222.9 603.8,223.3 605.1,223.9 606.4,223.4 607.7,224.0 609.0,222.7 610.3,222.9 611.6,223.4 612.9,223.8 614.2,222.9 615.5,223.5 616.8,223.1 618.1,223.2 619.4,223.7 620.7,223.8 622.0,223.6 623.3,223.9 624.6,224.2 625.9,224.1 627.2,223.5 628.5,224.4 629.8,224.5 631.1,223.8 632.4,224.2 633.7,224.0 635.0,224.1 636.3,224.3 637.6,223.7 638.9,224.5 640.2,224.3 641.5,224.5 642.8,224.2 644.1,224.5 645,225.2" fill="#000"/>
<polyline points="603,223 605.5,220 608,221 610.5,218 613,212 615.5,203 618,195 621,191 624,187.5 626,191 628,198 630,208 632,216 635,221 639,224" fill="none" stroke="#222" stroke-width="2.1" stroke-linejoin="round"/>
<rect x="564.0" y="144.7" width="3.8" height="81.5" fill="#000"/>
<rect x="567.4" y="181" width="2" height="44.19999999999999" fill="#000"/>
<line x1="559.4" y1="145.20" x2="565.4" y2="145.20" stroke="#000" stroke-width="1.3"/>
<line x1="561.6" y1="148.40" x2="565.4" y2="148.40" stroke="#000" stroke-width="1.3"/>
<line x1="561.6" y1="151.60" x2="565.4" y2="151.60" stroke="#000" stroke-width="1.3"/>
<line x1="561.6" y1="154.80" x2="565.4" y2="154.80" stroke="#000" stroke-width="1.3"/>
<line x1="561.6" y1="158.00" x2="565.4" y2="158.00" stroke="#000" stroke-width="1.3"/>
<line x1="559.4" y1="161.20" x2="565.4" y2="161.20" stroke="#000" stroke-width="1.3"/>
<line x1="561.6" y1="164.40" x2="565.4" y2="164.40" stroke="#000" stroke-width="1.3"/>
<line x1="561.6" y1="167.60" x2="565.4" y2="167.60" stroke="#000" stroke-width="1.3"/>
<line x1="561.6" y1="170.80" x2="565.4" y2="170.80" stroke="#000" stroke-width="1.3"/>
<line x1="561.6" y1="174.00" x2="565.4" y2="174.00" stroke="#000" stroke-width="1.3"/>
<line x1="559.4" y1="177.20" x2="565.4" y2="177.20" stroke="#000" stroke-width="1.3"/>
<line x1="561.6" y1="180.40" x2="565.4" y2="180.40" stroke="#000" stroke-width="1.3"/>
<line x1="561.6" y1="183.60" x2="565.4" y2="183.60" stroke="#000" stroke-width="1.3"/>
<line x1="561.6" y1="186.80" x2="565.4" y2="186.80" stroke="#000" stroke-width="1.3"/>
<line x1="561.6" y1="190.00" x2="565.4" y2="190.00" stroke="#000" stroke-width="1.3"/>
<line x1="559.4" y1="193.20" x2="565.4" y2="193.20" stroke="#000" stroke-width="1.3"/>
<line x1="561.6" y1="196.40" x2="565.4" y2="196.40" stroke="#000" stroke-width="1.3"/>
<line x1="561.6" y1="199.60" x2="565.4" y2="199.60" stroke="#000" stroke-width="1.3"/>
<line x1="561.6" y1="202.80" x2="565.4" y2="202.80" stroke="#000" stroke-width="1.3"/>
<line x1="561.6" y1="206.00" x2="565.4" y2="206.00" stroke="#000" stroke-width="1.3"/>
<line x1="559.4" y1="209.20" x2="565.4" y2="209.20" stroke="#000" stroke-width="1.3"/>
<line x1="561.6" y1="212.40" x2="565.4" y2="212.40" stroke="#000" stroke-width="1.3"/>
<line x1="561.6" y1="215.60" x2="565.4" y2="215.60" stroke="#000" stroke-width="1.3"/>
<line x1="561.6" y1="218.80" x2="565.4" y2="218.80" stroke="#000" stroke-width="1.3"/>
<line x1="561.6" y1="222.00" x2="565.4" y2="222.00" stroke="#000" stroke-width="1.3"/>
<line x1="559.4" y1="225.20" x2="565.4" y2="225.20" stroke="#000" stroke-width="1.3"/>
<line x1="559.4" y1="225.2" x2="674.8" y2="225.2" stroke="#000" stroke-width="2"/>
<line x1="565.40" y1="225.2" x2="565.40" y2="228.6" stroke="#000" stroke-width="1"/>
<line x1="573.57" y1="225.2" x2="573.57" y2="227.6" stroke="#000" stroke-width="1"/>
<line x1="578.35" y1="225.2" x2="578.35" y2="227.6" stroke="#000" stroke-width="1"/>
<line x1="581.75" y1="225.2" x2="581.75" y2="227.6" stroke="#000" stroke-width="1"/>
<line x1="584.38" y1="225.2" x2="584.38" y2="227.6" stroke="#000" stroke-width="1"/>
<line x1="586.53" y1="225.2" x2="586.53" y2="227.6" stroke="#000" stroke-width="1"/>
<line x1="588.34" y1="225.2" x2="588.34" y2="227.6" stroke="#000" stroke-width="1"/>
<line x1="589.92" y1="225.2" x2="589.92" y2="227.6" stroke="#000" stroke-width="1"/>
<line x1="591.31" y1="225.2" x2="591.31" y2="227.6" stroke="#000" stroke-width="1"/>
<line x1="592.55" y1="225.2" x2="592.55" y2="228.6" stroke="#000" stroke-width="1"/>
<line x1="600.72" y1="225.2" x2="600.72" y2="227.6" stroke="#000" stroke-width="1"/>
<line x1="605.50" y1="225.2" x2="605.50" y2="227.6" stroke="#000" stroke-width="1"/>
<line x1="608.90" y1="225.2" x2="608.90" y2="227.6" stroke="#000" stroke-width="1"/>
<line x1="611.53" y1="225.2" x2="611.53" y2="227.6" stroke="#000" stroke-width="1"/>
<line x1="613.68" y1="225.2" x2="613.68" y2="227.6" stroke="#000" stroke-width="1"/>
<line x1="615.49" y1="225.2" x2="615.49" y2="227.6" stroke="#000" stroke-width="1"/>
<line x1="617.07" y1="225.2" x2="617.07" y2="227.6" stroke="#000" stroke-width="1"/>
<line x1="618.46" y1="225.2" x2="618.46" y2="227.6" stroke="#000" stroke-width="1"/>
<line x1="619.70" y1="225.2" x2="619.70" y2="228.6" stroke="#000" stroke-width="1"/>
<line x1="627.87" y1="225.2" x2="627.87" y2="227.6" stroke="#000" stroke-width="1"/>
<line x1="632.65" y1="225.2" x2="632.65" y2="227.6" stroke="#000" stroke-width="1"/>
<line x1="636.05" y1="225.2" x2="636.05" y2="227.6" stroke="#000" stroke-width="1"/>
<line x1="638.68" y1="225.2" x2="638.68" y2="227.6" stroke="#000" stroke-width="1"/>
<line x1="640.83" y1="225.2" x2="640.83" y2="227.6" stroke="#000" stroke-width="1"/>
<line x1="642.64" y1="225.2" x2="642.64" y2="227.6" stroke="#000" stroke-width="1"/>
<line x1="644.22" y1="225.2" x2="644.22" y2="227.6" stroke="#000" stroke-width="1"/>
<line x1="645.61" y1="225.2" x2="645.61" y2="227.6" stroke="#000" stroke-width="1"/>
<line x1="646.85" y1="225.2" x2="646.85" y2="228.6" stroke="#000" stroke-width="1"/>
<line x1="655.02" y1="225.2" x2="655.02" y2="227.6" stroke="#000" stroke-width="1"/>
<line x1="659.80" y1="225.2" x2="659.80" y2="227.6" stroke="#000" stroke-width="1"/>
<line x1="663.20" y1="225.2" x2="663.20" y2="227.6" stroke="#000" stroke-width="1"/>
<line x1="665.83" y1="225.2" x2="665.83" y2="227.6" stroke="#000" stroke-width="1"/>
<line x1="667.98" y1="225.2" x2="667.98" y2="227.6" stroke="#000" stroke-width="1"/>
<line x1="669.79" y1="225.2" x2="669.79" y2="227.6" stroke="#000" stroke-width="1"/>
<line x1="671.37" y1="225.2" x2="671.37" y2="227.6" stroke="#000" stroke-width="1"/>
<line x1="672.76" y1="225.2" x2="672.76" y2="227.6" stroke="#000" stroke-width="1"/>
<line x1="674" y1="225.2" x2="674" y2="228.6" stroke="#000" stroke-width="1"/>
<text x="556.4" y="150.5" font-size="10.3" text-anchor="end">100</text>
<text x="556.4" y="229.2" font-size="10.3" text-anchor="end">0</text>
<text transform="translate(541.3,184.7) rotate(-90)" font-size="10.5" text-anchor="middle">Counts</text>
<text x="643" y="160" font-size="10.5" text-anchor="middle">Tyrosinase</text>
<text x="641.6" y="173.1" font-size="10.5" text-anchor="middle">92.1%</text>
<text x="558.9" y="243.9" font-size="10">10<tspan font-size="6.5" dy="-4.3">0</tspan></text>
<text x="585" y="243.9" font-size="10">10<tspan font-size="6.5" dy="-4.3">1</tspan></text>
<text x="613.2" y="243.9" font-size="10">10<tspan font-size="6.5" dy="-4.3">2</tspan></text>
<text x="640.8" y="243.9" font-size="10">10<tspan font-size="6.5" dy="-4.3">3</tspan></text>
<text x="667.3" y="243.9" font-size="10">10<tspan font-size="6.5" dy="-4.3">4</tspan></text>
<text x="620.7" y="261.2" font-size="11.8" text-anchor="middle">FL1-H</text>
<polygon points="601,225 603,221.5 605.5,219 608,220 610.5,219.5 612,222 613,225" fill="#111"/>
<polygon points="583,224 585,221.6 590,221.2 594.5,222 596,224" fill="#bbb"/>
</g>
<!-- Panel C -->
<g id="panelC">
<text x="425.8" y="290.2" font-size="15.3" font-weight="bold" fill="#111">C</text>
<line x1="464.9" y1="280.6" x2="464.9" y2="417.7" stroke="#111" stroke-width="1.5"/>
<line x1="461.4" y1="281.2" x2="465" y2="281.2" stroke="#111" stroke-width="1.1"/>
<line x1="461" y1="417.2" x2="636" y2="417.2" stroke="#111" stroke-width="1.2"/>
<line x1="635.5" y1="417.2" x2="635.5" y2="419.2" stroke="#111" stroke-width="1"/>
<line x1="461.6" y1="417.2" x2="465" y2="417.2" stroke="#111" stroke-width="1.1"/>
<text x="458.4" y="421.5" font-size="11.2" text-anchor="end">0</text>
<line x1="461.6" y1="397.7" x2="465" y2="397.7" stroke="#111" stroke-width="1.1"/>
<text x="458.4" y="402.0" font-size="11.2" text-anchor="end">15</text>
<line x1="461.6" y1="378.3" x2="465" y2="378.3" stroke="#111" stroke-width="1.1"/>
<text x="458.4" y="382.6" font-size="11.2" text-anchor="end">30</text>
<line x1="461.6" y1="358.8" x2="465" y2="358.8" stroke="#111" stroke-width="1.1"/>
<text x="458.4" y="363.1" font-size="11.2" text-anchor="end">45</text>
<line x1="461.6" y1="339.4" x2="465" y2="339.4" stroke="#111" stroke-width="1.1"/>
<text x="458.4" y="343.7" font-size="11.2" text-anchor="end">60</text>
<line x1="461.6" y1="319.9" x2="465" y2="319.9" stroke="#111" stroke-width="1.1"/>
<text x="458.4" y="324.2" font-size="11.2" text-anchor="end">75</text>
<line x1="461.6" y1="300.4" x2="465" y2="300.4" stroke="#111" stroke-width="1.1"/>
<text x="458.4" y="304.7" font-size="11.2" text-anchor="end">90</text>
<text transform="translate(434.2,349.4) rotate(-90)" font-size="12.1" text-anchor="middle">% specific lysis</text>
<rect x="478.40000000000003" y="359.1" width="23.6" height="58.1" fill="#000"/>
<line x1="490.5" y1="350" x2="490.5" y2="359.1" stroke="#111" stroke-width="1.3"/>
<line x1="487.2" y1="350" x2="493.8" y2="350" stroke="#111" stroke-width="1.3"/>
<text transform="translate(490.8,429.2) rotate(-46)" font-size="11.6" text-anchor="end">1-6</text>
<rect x="508.40000000000003" y="343.2" width="23.6" height="74.0" fill="#000"/>
<line x1="520.5" y1="331.6" x2="520.5" y2="343.2" stroke="#111" stroke-width="1.3"/>
<line x1="517.2" y1="331.6" x2="523.8" y2="331.6" stroke="#111" stroke-width="1.3"/>
<text transform="translate(525,429.3) rotate(-47)" font-size="11.6" text-anchor="end">3-5</text>
<rect x="538.0999999999999" y="365.6" width="23.6" height="51.6" fill="#000"/>
<line x1="550" y1="359.5" x2="550" y2="365.6" stroke="#111" stroke-width="1.3"/>
<line x1="546.7" y1="359.5" x2="553.3" y2="359.5" stroke="#111" stroke-width="1.3"/>
<text transform="translate(553.2,429.2) rotate(-48)" font-size="11.6" text-anchor="end">3-7</text>
<rect x="567.9" y="392.5" width="23.6" height="24.7" fill="#000"/>
<line x1="580" y1="385.7" x2="580" y2="392.5" stroke="#111" stroke-width="1.3"/>
<line x1="576.7" y1="385.7" x2="583.3" y2="385.7" stroke="#111" stroke-width="1.3"/>
<text transform="translate(584.8,429.6) rotate(-48)" font-size="11.6" text-anchor="end">HIV</text>
<rect x="597.8" y="302.3" width="23.6" height="114.9" fill="#000"/>
<line x1="609.6" y1="287.7" x2="609.6" y2="302.3" stroke="#111" stroke-width="1.3"/>
<line x1="606.3000000000001" y1="287.7" x2="612.9" y2="287.7" stroke="#111" stroke-width="1.3"/>
<text transform="translate(616.4,430) rotate(-48.5)" font-size="11.6" text-anchor="end">HCT-HHD</text>
</g>
</svg>
</body></html>
